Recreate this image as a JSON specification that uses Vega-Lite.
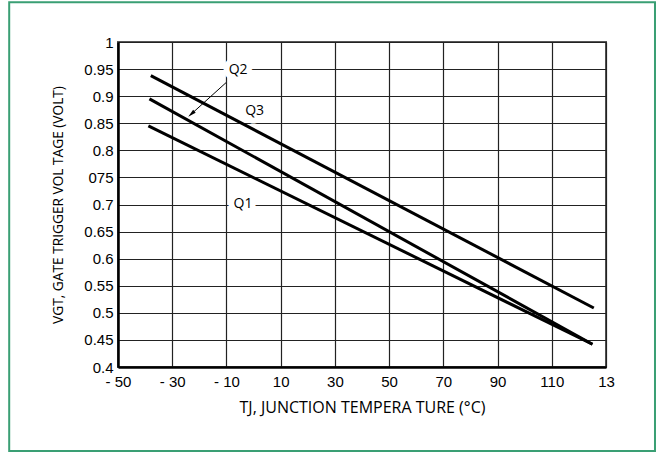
{
  "$schema": "https://vega.github.io/schema/vega-lite/v6.json",
  "width": 488,
  "height": 325,
  "autosize": {"type": "none"},
  "padding": {"left": 118, "top": 42, "right": 51, "bottom": 86},
  "background": "white",
  "config": {
    "view": {"stroke": "#555", "strokeWidth": 2},
    "axis": {
      "ticks": false,
      "labelOverlap": false,
      "labelFlush": false,
      "domainColor": "#000",
      "domainWidth": 2.5,
      "gridColor": "#222",
      "gridWidth": 1.2,
      "gridOpacity": 1,
      "labelFont": "Liberation Sans",
      "labelFontSize": 15,
      "labelColor": "#000",
      "titleFont": "Open Sans",
      "titleFontSize": 14,
      "titleFontWeight": "normal",
      "titleColor": "#000"
    }
  },
  "datasets": {
    "curves": [
      {"series": "Q2", "t": -37.9, "v": 0.938},
      {"series": "Q2", "t": 125.5, "v": 0.509},
      {"series": "Q3", "t": -38.4, "v": 0.895},
      {"series": "Q3", "t": 125.0, "v": 0.442},
      {"series": "Q1", "t": -38.8, "v": 0.845},
      {"series": "Q1", "t": 125.0, "v": 0.442}
    ],
    "labels": [
      {"label": "Q2", "t": -5.7, "v": 0.9475},
      {"label": "Q3", "t": 0.4, "v": 0.873},
      {"label": "Q1", "t": -3.9, "v": 0.7006}
    ],
    "arrow": [
      {"t": -10.16, "v": 0.9249},
      {"t": -22.96, "v": 0.867}
    ]
  },
  "layer": [
    {
      "data": {"name": "curves"},
      "mark": {"type": "line", "color": "#000", "strokeWidth": 3},
      "encoding": {
        "x": {
          "field": "t",
          "type": "quantitative",
          "scale": {"domain": [-50, 130], "nice": false, "zero": false},
          "axis": {
            "title": "TJ, JUNCTION TEMPERA TURE (°C)",
            "titleFontSize": 16,
            "tickCount": 20,
            "values": [-50, -30, -10, 10, 30, 50, 70, 90, 110, 130],
            "labelExpr": "datum.value < 0 ? '- ' + abs(datum.value) : (datum.value == 130 ? '13' : '' + datum.value)",
            "labelPadding": 7,
            "titlePadding": 10
          }
        },
        "y": {
          "field": "v",
          "type": "quantitative",
          "scale": {"domain": [0.4, 1], "nice": false, "zero": false},
          "axis": {
            "title": "VGT, GATE TRIGGER VOL TAGE (VOLT)",
            "titleFontSize": 13.7,
            "tickCount": 20,
            "values": [0.4, 0.45, 0.5, 0.55, 0.6, 0.65, 0.7, 0.75, 0.8, 0.85, 0.9, 0.95, 1],
            "labelExpr": "abs(datum.value - 0.75) < 0.001 ? '075' : format(datum.value, '~g')",
            "labelPadding": 5,
            "titlePadding": 18
          }
        },
        "detail": {"field": "series"}
      }
    },
    {
      "data": {"name": "labels"},
      "mark": {"type": "text", "font": "Open Sans", "fontSize": 14, "fill": "white", "stroke": "white", "strokeWidth": 12, "strokeJoin": "round"},
      "encoding": {
        "x": {"field": "t", "type": "quantitative"},
        "y": {"field": "v", "type": "quantitative"},
        "text": {"field": "label"}
      }
    },
    {
      "data": {"name": "labels"},
      "mark": {"type": "text", "font": "Open Sans", "fontSize": 14, "color": "#000"},
      "encoding": {
        "x": {"field": "t", "type": "quantitative"},
        "y": {"field": "v", "type": "quantitative"},
        "text": {"field": "label"}
      }
    },
    {
      "data": {"name": "arrow"},
      "mark": {"type": "line", "color": "#000", "strokeWidth": 1},
      "encoding": {
        "x": {"field": "t", "type": "quantitative"},
        "y": {"field": "v", "type": "quantitative"}
      }
    },
    {
      "data": {"name": "arrow"},
      "transform": [{"filter": "datum.t < -20"}],
      "mark": {"type": "point", "shape": "M0,-1L0.45,1L-0.45,1Z", "filled": true, "color": "#000", "size": 70, "angle": 228, "opacity": 1},
      "encoding": {
        "x": {"field": "t", "type": "quantitative"},
        "y": {"field": "v", "type": "quantitative"}
      }
    },
    {
      "data": {"values": [{}]},
      "mark": {"type": "rect", "fill": "transparent", "stroke": "#3a9f74", "strokeWidth": 2, "clip": false},
      "encoding": {
        "x": {"datum": -90.13, "type": "quantitative"},
        "x2": {"datum": 148.07},
        "y": {"datum": 1.0733, "type": "quantitative"},
        "y2": {"datum": 0.2449}
      }
    }
  ]
}
